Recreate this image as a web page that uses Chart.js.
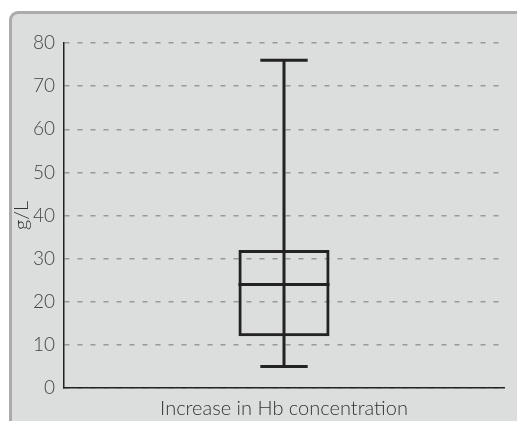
<!DOCTYPE html>
<html>
<head>
<meta charset="utf-8">
<script src="https://cdn.jsdelivr.net/npm/chart.js@4"></script>
<style>
  html, body { margin: 0; padding: 0; background: #fff; overflow: hidden; }
  #panel {
    position: absolute; left: 9px; top: 11px; width: 600px; height: 500px;
    background: #dcdddd; border-left: 3px solid #ababab; border-top: 3px solid #ababab;
    border-top-left-radius: 9px;
  }
  #chart { position: absolute; left: 0; top: 0; }
</style>
</head>
<body>
<div id="panel"></div>
<canvas id="chart" width="517" height="421"></canvas>
<script>
// Box plot values (g/L)
const categories = ['Increase in Hb concentration'];
const whiskerMin = [5];
const q1 = [12];
const median = [24];
const q3 = [32];
const whiskerMax = [76];
const yTicks = [0, 10, 20, 30, 40, 50, 60, 70, 80];

const lineColor = '#222';
const fontFamily = 'Lato, "Open Sans", sans-serif';

// draws median line, whiskers and caps from the scales
const boxPlotExtras = {
    id: 'boxPlotExtras',
    afterDatasetsDraw(chart) {
        const { ctx, scales: { x, y } } = chart;
        const meta = chart.getDatasetMeta(0);
        ctx.save();
        ctx.strokeStyle = lineColor;
        ctx.lineWidth = 3;
        categories.forEach((c, i) => {
            const bar = meta.data[i];
            const cx = bar.x;
            const half = bar.width / 2;
            const capHalf = half * 0.52;
            // whisker
            ctx.beginPath();
            ctx.moveTo(cx, y.getPixelForValue(whiskerMin[i]));
            ctx.lineTo(cx, y.getPixelForValue(whiskerMax[i]));
            ctx.stroke();
            // caps
            [whiskerMin[i], whiskerMax[i]].forEach(v => {
                const py = y.getPixelForValue(v);
                ctx.beginPath();
                ctx.moveTo(cx - capHalf, py);
                ctx.lineTo(cx + capHalf, py);
                ctx.stroke();
            });
            // median
            const my = y.getPixelForValue(median[i]);
            ctx.beginPath();
            ctx.moveTo(cx - half, my);
            ctx.lineTo(cx + half, my);
            ctx.stroke();
        });
        ctx.restore();
    }
};

new Chart(document.getElementById('chart').getContext('2d'), {
    type: 'bar',
    data: {
        labels: categories,
        datasets: [{
            data: q1.map((v, i) => [v, q3[i]]),
            backgroundColor: 'rgba(0,0,0,0)',
            borderColor: lineColor,
            borderWidth: 3,
            borderSkipped: false,
            barPercentage: 0.207,
            categoryPercentage: 1
        }]
    },
    options: {
        responsive: false,
        animation: false,
        layout: { padding: { top: 43, right: 13, left: 0, bottom: 0 } },
        plugins: {
            legend: { display: false },
            tooltip: { enabled: false }
        },
        scales: {
            x: {
                grid: { display: false },
                border: { display: true, color: lineColor, width: 1.5 },
                ticks: { display: false },
                title: {
                    display: true,
                    text: 'Increase in Hb concentration',
                    color: '#333',
                    font: { family: fontFamily, size: 20, weight: 300 },
                    padding: { top: 5, bottom: 0 }
                },
                afterFit(scale) { scale.height = 33; }
            },
            y: {
                min: 0,
                max: 80,
                afterBuildTicks(scale) { scale.ticks = yTicks.map(v => ({ value: v })); },
                grid: { color: '#999', lineWidth: 1.5, drawTicks: false },
                border: { display: true, color: lineColor, width: 1.5, dash: [5, 8] },
                ticks: {
                    color: '#444',
                    padding: 9,
                    font: { family: fontFamily, size: 19, weight: 300 }
                },
                title: {
                    display: true,
                    text: 'g/L',
                    color: '#333',
                    font: { family: fontFamily, size: 20, weight: 300 },
                    padding: { top: 10, bottom: 0 }
                },
                afterFit(scale) { scale.width = 64; }
            }
        }
    },
    plugins: [boxPlotExtras]
});
</script>
</body>
</html>
